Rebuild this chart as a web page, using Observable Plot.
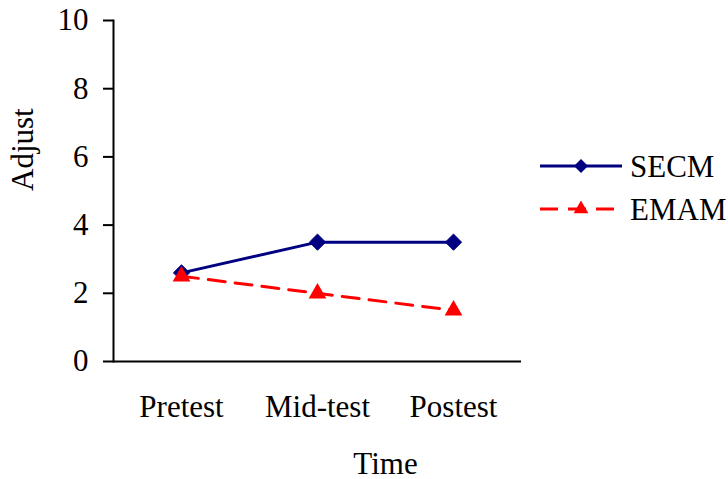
<!DOCTYPE html>
<html>
<head>
<meta charset="utf-8">
<script src="https://cdn.jsdelivr.net/npm/d3@7"></script>
<script src="https://cdn.jsdelivr.net/npm/@observablehq/plot@0.6"></script>
<style>
  html, body { margin: 0; padding: 0; background: #fff; }
  #chart { position: relative; width: 728px; height: 479px; font-family: "Liberation Serif", "Times New Roman", serif; }
  #chart svg text { font-family: "Liberation Serif", "Times New Roman", serif; }
  #legend { position: absolute; left: 538px; top: 146px; }
</style>
</head>
<body>
<div id="chart"><div id="legend"></div></div>
<script>
// Adjustment scores at each test point
const times = ["Pretest", "Mid-test", "Postest"];
const secm = [2.6, 3.5, 3.5];
const emam = [2.5, 2.0, 1.5];
const seriesNames = ["SECM", "EMAM"];
const yTicks = [0, 2, 4, 6, 8, 10];

const colors = { SECM: "#000080", EMAM: "#ff0000" };

const rows = [
  ...times.map((t, i) => ({ time: t, value: secm[i], series: "SECM" })),
  ...times.map((t, i) => ({ time: t, value: emam[i], series: "EMAM" }))
];
const secmRows = rows.filter(d => d.series === "SECM");
const emamRows = rows.filter(d => d.series === "EMAM");

const font = '"Liberation Serif", "Times New Roman", serif';
const fs = 31;

const plot = Plot.plot({
  width: 728,
  height: 479,
  marginLeft: 113,
  marginRight: 207,
  marginTop: 20,
  marginBottom: 118,
  style: { fontFamily: font, fontSize: fs + "px", color: "#000", background: "#fff" },
  x: { type: "point", domain: times, padding: 0.5 },
  y: { domain: [0, 10] },
  marks: [
    Plot.frame({ anchor: "left", strokeWidth: 2 }),
    Plot.ruleY([0], { strokeWidth: 2 }),
    Plot.axisY({ ticks: yTicks, tickSize: 10, tickPadding: 15, label: null, strokeWidth: 2, fontSize: fs }),
    Plot.axisX({ tickSize: 0, tickPadding: 33, label: null, fontSize: fs }),
    Plot.line(secmRows, { x: "time", y: "value", stroke: colors.SECM, strokeWidth: 3 }),
    Plot.line(emamRows, { x: "time", y: "value", stroke: colors.EMAM, strokeWidth: 3, strokeDasharray: "17,10" }),
    Plot.dot(secmRows, { x: "time", y: "value", symbol: "diamond2", fill: colors.SECM, stroke: colors.SECM, strokeWidth: 1, r: 7.3 }),
    Plot.dot(emamRows, { x: "time", y: "value", symbol: "triangle", fill: colors.EMAM, r: 6.6 }),
    Plot.text(["Adjust"], { frameAnchor: "left", dx: -90, rotate: -90, text: d => d, fontSize: fs }),
    Plot.text(["Time"], { frameAnchor: "bottom", dx: 68, dy: 112, text: d => d, fontSize: fs })
  ]
});
document.getElementById("chart").prepend(plot);

// Legend to the right of the plot
const leg = d3.select("#legend").append("svg").attr("width", 190).attr("height", 90)
  .style("font-family", font);
const entries = leg.selectAll("g").data(seriesNames).join("g")
  .attr("transform", (d, i) => `translate(0,${20 + i * 43})`);
entries.append("line")
  .attr("x1", 2).attr("x2", 84).attr("y1", 0).attr("y2", 0)
  .attr("stroke", d => colors[d])
  .attr("stroke-width", 3)
  .attr("stroke-dasharray", d => d === "SECM" ? null : "18,10");
entries.append("path")
  .attr("transform", "translate(43,0)")
  .attr("d", d => d3.symbol(d === "SECM" ? d3.symbolDiamond2 : d3.symbolTriangle, d === "SECM" ? 125 : 95)())
  .attr("fill", d => colors[d]);
entries.append("text")
  .attr("x", 92).attr("y", 0).attr("dy", "0.35em")
  .attr("font-size", fs)
  .text(d => d);
</script>
</body>
</html>
